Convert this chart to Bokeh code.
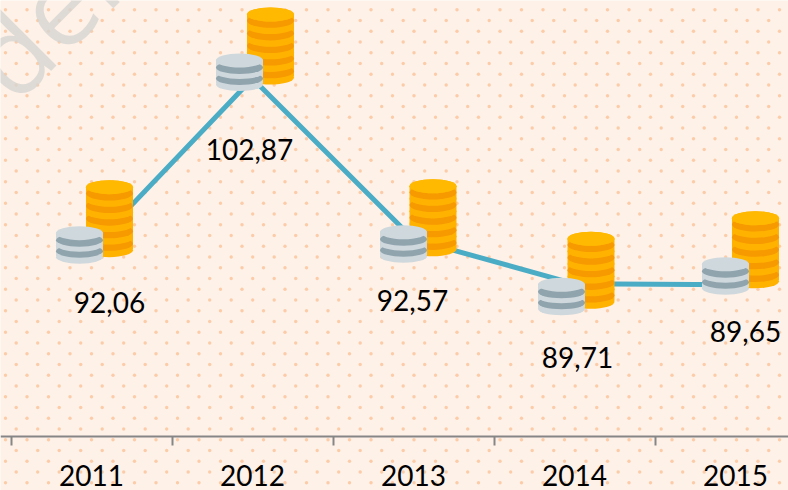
from bokeh.plotting import figure
from bokeh.embed import file_html
from bokeh.resources import INLINE
from bokeh.models import ColumnDataSource, FixedTicker, Label
from bokeh.core.properties import value

years = ["2011", "2012", "2013", "2014", "2015"]
values = [92.06, 102.87, 92.57, 89.71, 89.65]
labels = ["92,06", "102,87", "92,57", "89,71", "89,65"]

# layout (screen pixels, relative to each point)
label_dx = [18, -3, -1, 3, 10]
label_dy = [55, 71, 61, 74, 47]
icon_dx = [18, 18, 19.5, 16.5, 20]
icon_top = [-67, -71, -60, -52, -73.5]
small_dx = [-12, -13, -10, -13, -10]

PX_X, PX_Y = 161.0, 15.6
W, H = 788, 490
def X(px): return (px - 91) / PX_X
def Y(px): return 102.87 - (px - 78) / PX_Y

BG = "#fef1e8"
p = figure(width=W, height=H, output_backend="svg", toolbar_location=None,
           x_range=(X(0), X(W)), y_range=(Y(H), Y(0)),
           background_fill_color=BG, border_fill_color=BG, min_border=0,
           outline_line_color=None, y_axis_location=None)
p.grid.visible = False

# watermark
p.add_layout(Label(x=X(54), y=Y(6), text="den", angle=45, angle_units="deg",
                   text_font="Open Sans", text_font_size="110px", text_color="#d6d5d1",
                   text_alpha=0.8, text_align="center", text_baseline="middle"))

# dotted paper pattern
dx, dy = [], []
for r in range(46):
    py = 9.3 + r * 10.75
    off_x = 5 if r % 2 == 0 else 15.7
    for c in range(37):
        dx.append(X(off_x + c * 21.5)); dy.append(Y(py))
p.scatter(dx, dy, size=3.4, marker="circle", fill_color="#fbb987", fill_alpha=0.65, line_color=None)

xs = list(range(len(years)))
p.line(xs, values, line_color="#4bacc6", line_width=5)

def ell(x, y, w, h, c):
    p.ellipse([x], [y], width=[w], height=[h], width_units="screen", height_units="screen",
              fill_color=c, line_color=None)
def rct(x, y, w, h, c):
    p.rect([x], [y], width=[w], height=[h], width_units="screen", height_units="screen",
           fill_color=c, line_color=None)

def off(v, d): return v - d / PX_Y

for i, v in enumerate(values):
    top = icon_top[i]
    # large gold stack
    cx = i + icon_dx[i] / PX_X
    rct(cx, off(v, top + 38), 47, 62, "#ffb300")
    for k in range(10, -1, -1):
        col = "#ffb300" if k % 2 == 0 else "#f79a00"
        ell(cx, off(v, top + 7 + k * 6.3), 47, 14, col)
    ell(cx, off(v, top + 7), 47, 14, "#ffb900")
    rct(cx - 6, off(v, top + 63), 9, 28, "#e27d04")
    # small grey stack
    sx = i + small_dx[i] / PX_X
    st = top + 46
    rct(sx, off(v, st + 18), 47, 24, "#cfd8dc")
    ell(sx, off(v, st + 31), 47, 13, "#cfd8dc")
    ell(sx, off(v, st + 25), 47, 13, "#90a4ae")
    ell(sx, off(v, st + 19), 47, 13, "#cfd8dc")
    ell(sx, off(v, st + 14), 47, 13, "#90a4ae")
    ell(sx, off(v, st + 7), 47, 14, "#cfd8dc")

src = ColumnDataSource(dict(x=xs, y=values, t=labels, dx=label_dx, dy=label_dy))
p.text("x", "y", text="t", source=src, x_offset="dx", y_offset="dy",
       text_font=value("Lato"), text_font_size="28px", text_color="#000000",
       text_align="center", text_baseline="middle")

ax = p.xaxis[0]
ax.fixed_location = Y(436)
ax.ticker = FixedTicker(ticks=xs, minor_ticks=[i - 0.5 for i in range(6)])
ax.major_label_overrides = {i: y for i, y in enumerate(years)}
ax.major_tick_line_color = None
ax.major_tick_in = 0
ax.major_tick_out = 0
ax.minor_tick_in = 0
ax.minor_tick_out = 9
ax.minor_tick_line_color = "#868686"
ax.minor_tick_line_width = 2
ax.axis_line_color = "#868686"
ax.axis_line_width = 2
ax.major_label_standoff = 19
ax.major_label_text_font = "Lato"
ax.major_label_text_font_size = "28px"
ax.major_label_text_color = "#000000"

open("out.html", "w").write(file_html(p, INLINE))
